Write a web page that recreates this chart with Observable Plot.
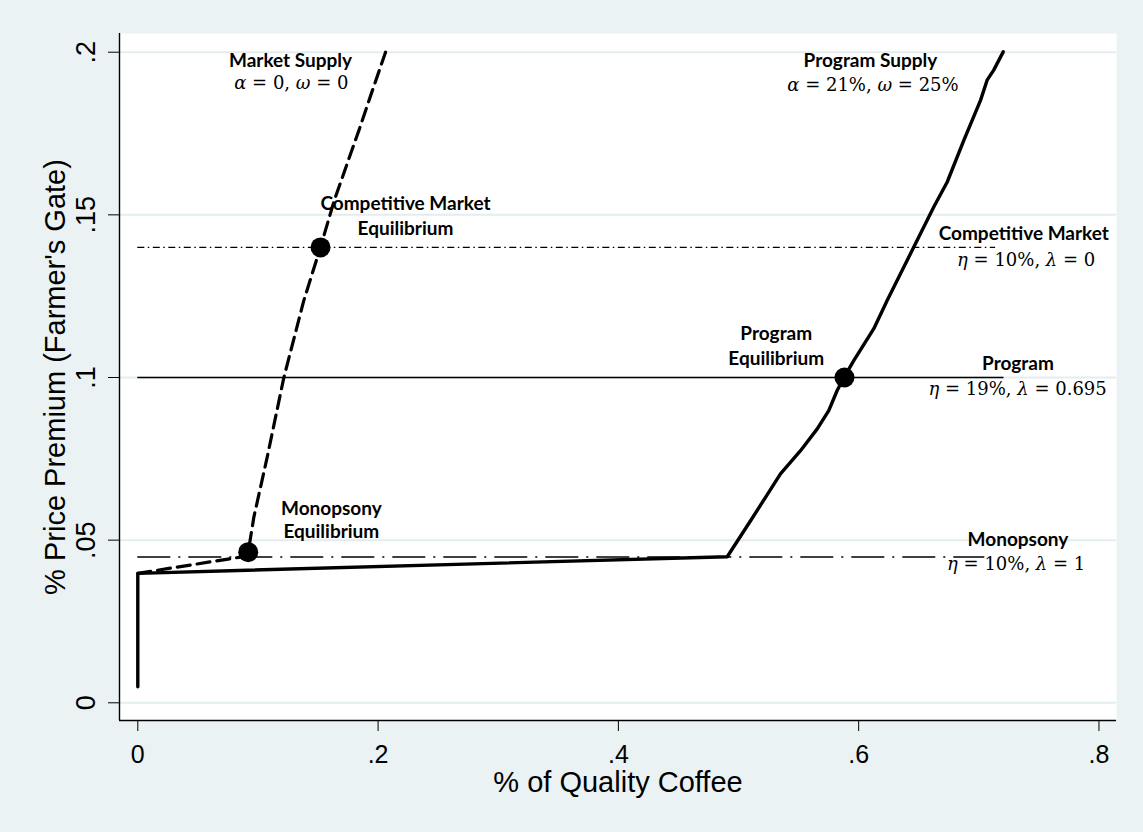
<!DOCTYPE html>
<html><head><meta charset="utf-8">
<script src="https://cdn.jsdelivr.net/npm/d3@7"></script>
<script src="https://cdn.jsdelivr.net/npm/@observablehq/plot@0.6"></script>
<style>
html,body{margin:0;padding:0;background:#EAF2F3;}
#chart{width:1143px;height:832px;}
</style></head><body><div id="chart"></div>
<script>
const xTicks = [0, 0.2, 0.4, 0.6, 0.8];
const xTickLabels = ["0", ".2", ".4", ".6", ".8"];
const yTicks = [0, 0.05, 0.1, 0.15, 0.2];
const yTickLabels = ["0", ".05", ".1", ".15", ".2"];
const xTitle = "% of Quality Coffee";
const yTitle = "% Price Premium (Farmer's Gate)";

const marketSupplyX = [0, 0.0857, 0.0919, 0.0966, 0.1077, 0.1215, 0.1382, 0.1521, 0.1635, 0.1745, 0.1850, 0.1955, 0.2062];
const marketSupplyY = [0.0398, 0.0448, 0.0463, 0.0571, 0.0755, 0.0999, 0.1237, 0.1401, 0.1544, 0.1660, 0.1770, 0.1885, 0.2000];

const programSupplyX = [0, 0, 0.4906, 0.5127, 0.5349, 0.5516, 0.5655, 0.5751, 0.5821, 0.5876, 0.5959, 0.6126, 0.6237, 0.6348, 0.6459, 0.6625, 0.6737, 0.6875, 0.7014, 0.7069, 0.7124, 0.7203];
const programSupplyY = [0.0049, 0.0398, 0.0449, 0.0575, 0.0704, 0.0775, 0.0842, 0.0898, 0.0960, 0.0999, 0.1052, 0.1150, 0.1237, 0.1319, 0.1401, 0.1524, 0.1601, 0.1729, 0.1852, 0.1914, 0.1945, 0.2001];

const levelNames = ["Competitive Market", "Program", "Monopsony"];
const levelY = [0.14, 0.1, 0.0448];
const levelEndX = [0.714, 0.721, 0.705];

const equilibriumNames = ["Monopsony", "Competitive Market", "Program"];
const equilibriumX = [0.0919, 0.1521, 0.5882];
const equilibriumY = [0.0463, 0.14, 0.1];

const boldLabels = ["Market Supply", "Program Supply", "Competitive Market", "Equilibrium", "Competitive Market", "Program", "Equilibrium", "Program", "Monopsony", "Monopsony", "Equilibrium"];
const boldX = [0.1271, 0.6098, 0.2228, 0.2228, 0.7374, 0.5314, 0.5314, 0.7326, 0.7326, 0.1611, 0.1611];
const boldY = [0.1974, 0.1974, 0.1534, 0.1457, 0.1442, 0.1134, 0.1057, 0.1042, 0.0501, 0.0596, 0.0524];

const mathLabels = ["α = 0, ω = 0", "α = 21%, ω = 25%", "η = 10%, λ = 0", "η = 19%, λ = 0.695", "η = 10%, λ = 1"];
const mathX = [0.1278, 0.6119, 0.7394, 0.7323, 0.7311];
const mathY = [0.1904, 0.1898, 0.1360, 0.0965, 0.0427];

const xDomain = [-0.01523, 0.8146];
const yDomain = [-0.00544, 0.20575];

const market = marketSupplyX.map((x, i) => ({x, y: marketSupplyY[i]}));
const program = programSupplyX.map((x, i) => ({x, y: programSupplyY[i]}));
const levels = levelNames.map((name, i) => ({name, y: levelY[i], x1: 0, x2: levelEndX[i]}));
const eq = equilibriumNames.map((name, i) => ({name, x: equilibriumX[i], y: equilibriumY[i]}));
const bold = boldLabels.map((text, i) => ({text, x: boldX[i], y: boldY[i]}));
const math = mathLabels.map((text, i) => ({text, x: mathX[i], y: mathY[i]}));

const chart = Plot.plot({
  width: 1143, height: 832,
  marginLeft: 119, marginRight: 27, marginTop: 33, marginBottom: 112,
  x: {domain: xDomain},
  y: {domain: yDomain},
  style: {background: "transparent", fontFamily: "'Liberation Sans', Arial, sans-serif", color: "#000"},
  marks: [
    Plot.frame({fill: "white", stroke: "none"}),
    Plot.gridY({ticks: yTicks, stroke: "#E3EDEF", strokeOpacity: 1, strokeWidth: 2}),
    Plot.ruleX([xDomain[0]], {stroke: "#000", strokeWidth: 1.4}),
    Plot.ruleY([yDomain[0]], {stroke: "#000", strokeWidth: 1.4}),
    Plot.axisX({ticks: xTicks, tickFormat: d => xTickLabels[xTicks.indexOf(d)], tickSize: 11, tickPadding: 14, fontSize: 25, label: null}),
    Plot.axisY({ticks: yTicks, tickFormat: d => yTickLabels[yTicks.indexOf(d)], tickSize: 11, tickPadding: 14, fontSize: 27, tickRotate: -90, label: null}),
    Plot.text([xTitle], {frameAnchor: "bottom", dy: 71, lineAnchor: "bottom", textAnchor: "middle", fontSize: 29, text: d => d}),
    Plot.text([yTitle], {frameAnchor: "left", dx: -55, rotate: -90, lineAnchor: "bottom", textAnchor: "middle", fontSize: 29, text: d => d}),
    Plot.ruleY(levels.filter(d => d.name === "Competitive Market"), {y: "y", x1: "x1", x2: "x2", stroke: "#000", strokeWidth: 1.4, strokeDasharray: "7,3.5,1.5,3.5"}),
    Plot.ruleY(levels.filter(d => d.name === "Program"), {y: "y", x1: "x1", x2: "x2", stroke: "#000", strokeWidth: 1.4}),
    Plot.ruleY(levels.filter(d => d.name === "Monopsony"), {y: "y", x1: "x1", x2: "x2", stroke: "#000", strokeWidth: 1.4, strokeDasharray: "33,8,2,8"}),
    Plot.line(market, {x: "x", y: "y", stroke: "#000", strokeWidth: 3.2, strokeDasharray: "13,7"}),
    Plot.line(program, {x: "x", y: "y", stroke: "#000", strokeWidth: 3.4}),
    Plot.dot(eq, {x: "x", y: "y", r: 10, fill: "#000"}),
    Plot.text(bold, {x: "x", y: "y", text: "text", fontFamily: "Lato, 'Open Sans', sans-serif", fontWeight: "bold", fontSize: 19, fill: "#000"}),
    Plot.text(math, {x: "x", y: "y", text: "text", fontFamily: "'DejaVu Serif', serif", fontSize: 18, fill: "#000"})
  ]
});

// italicize Greek letters in the math labels
d3.select(chart).selectAll("text").each(function () {
  const t = this.textContent;
  if (/[αωηλ]/.test(t) && this.childElementCount === 0) {
    const parts = t.split(/([αωηλ])/).filter(s => s.length);
    this.textContent = "";
    for (const p of parts) {
      const ts = document.createElementNS("http://www.w3.org/2000/svg", "tspan");
      ts.textContent = p;
      if (/[αωηλ]/.test(p)) ts.setAttribute("font-style", "italic");
      this.appendChild(ts);
    }
  }
});

document.getElementById("chart").appendChild(chart);
</script>
</body></html>
